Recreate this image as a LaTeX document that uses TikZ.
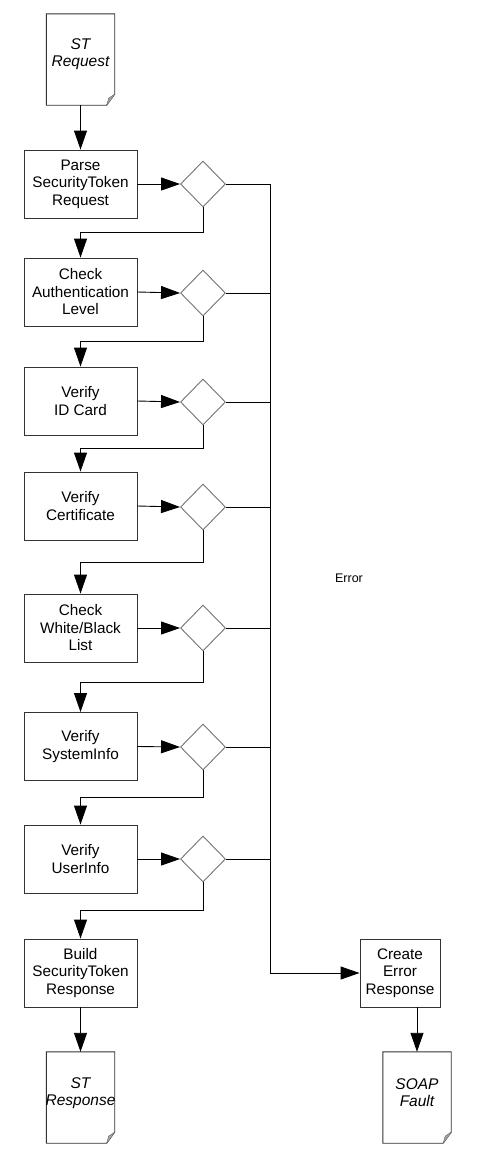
\documentclass[tikz,border=0pt]{standalone}
\usepackage{fontspec}
\setmainfont{Liberation Sans}
\usetikzlibrary{shapes.geometric,arrows.meta}
\tikzset{
  stepbox/.style={draw=black!80, line width=0.9pt, fill=white, minimum width=113pt, minimum height=68pt, inner sep=0pt, align=center, font=\fontsize{15.3}{17.5}\selectfont},
  errbox/.style={stepbox, minimum width=80pt},
  check/.style={diamond, draw=black!55, line width=0.9pt, fill=white, minimum width=45pt, minimum height=46pt, inner sep=0pt},
  docnode/.style={minimum width=68pt, minimum height=91pt, inner sep=0pt, draw=none},
  doctext/.style={align=center, inner sep=0pt, font=\fontsize{15.5}{17.5}\selectfont\itshape},
  conn/.style={draw=black, line width=0.9pt},
  arr/.style={conn, -{Triangle[length=19pt,width=13pt]}},
  lbl/.style={font=\fontsize{12.5}{15}\selectfont, inner sep=0pt}
}
\newcommand\docoutline[1]{%
  \draw[draw=black!80, line width=0.9pt, fill=white] (#1.north west) -- (#1.north east) -- ([yshift=11pt]#1.south east) -- ([xshift=-8pt]#1.south east) -- (#1.south west) -- cycle;
  \fill[black!35] ([yshift=11pt]#1.south east) -- ([xshift=-6pt,yshift=7pt]#1.south east) -- ([xshift=-8pt]#1.south east) -- cycle;
  \draw[black!60, line width=0.5pt] ([yshift=11pt]#1.south east) -- ([xshift=-6pt,yshift=7pt]#1.south east) -- ([xshift=-8pt]#1.south east);
}
\begin{document}
\begin{tikzpicture}[x=1pt,y=-1pt]
\useasboundingbox (0,0) rectangle (490,1154);
% documents
\node[docnode] (req) at (80.5,59.5) {};
\docoutline{req}
\node[doctext] (reqt) at ([yshift=5.5pt]req.center) {ST\\Request};

% steps
\node[stepbox] (p1) at (80.5,184) {Parse\\SecurityToken\\Request};
\node[stepbox] (p2) at (80.5,292) {Check\\Authentication\\Level};
\node[stepbox] (p3) at (80.5,401) {Verify\\ID Card};
\node[stepbox] (p4) at (80.5,506) {Verify\\Certificate};
\node[stepbox] (p5) at (80.5,628) {Check\\White/Black\\List};
\node[stepbox] (p6) at (80.5,746.5) {Verify\\SystemInfo};
\node[stepbox] (p7) at (80.5,859) {Verify\\UserInfo};
\node[stepbox] (p8) at (80.5,973) {Build\\SecurityToken\\Response};

% checks
\node[check] (d1) at (203,184) {};
\node[check] (d2) at (203,293) {};
\node[check] (d3) at (203,402) {};
\node[check] (d4) at (203,507) {};
\node[check] (d5) at (203,628) {};
\node[check] (d6) at (203,747) {};
\node[check] (d7) at (203,859) {};

% junctions
\coordinate (j1) at (203,232);
\coordinate (j2) at (203,341);
\coordinate (j3) at (203,448);
\coordinate (j4) at (203,562);
\coordinate (j5) at (203,682);
\coordinate (j6) at (203,797);
\coordinate (j7) at (203,910);
\coordinate (etop) at (270,184);

% error side
\node[errbox] (err) at (400,973) {Create\\Error\\Response};
\node[docnode] (soap) at (417,1097.5) {};
\docoutline{soap}
\node[doctext] (soapt) at ([yshift=5pt]soap.center) {SOAP\\Fault};

\node[docnode] (resp) at (80.5,1097.5) {};
\docoutline{resp}
\node[doctext] (respt) at ([yshift=4.5pt]resp.center) {ST\\Response};

\node[lbl] (elbl) at (349,578) {Error};

% connectors
\draw[arr] (req.south) -- (p1.north);
\foreach \i in {1,...,7} {
  \draw[arr] (p\i.east) -- (d\i.west);
  \draw[conn] (d\i.east) -- (d\i.east -| etop);
}
\draw[arr] (d1.south) -- (j1) -| (p2.north);
\draw[arr] (d2.south) -- (j2) -| (p3.north);
\draw[arr] (d3.south) -- (j3) -| (p4.north);
\draw[arr] (d4.south) -- (j4) -| (p5.north);
\draw[arr] (d5.south) -- (j5) -| (p6.north);
\draw[arr] (d6.south) -- (j6) -| (p7.north);
\draw[arr] (d7.south) -- (j7) -| (p8.north);
\draw[arr] (etop) |- (err.west);
\draw[arr] (p8.south) -- (resp.north);
\draw[arr] (soap.north |- err.south) -- (soap.north);
\end{tikzpicture}
\end{document}
